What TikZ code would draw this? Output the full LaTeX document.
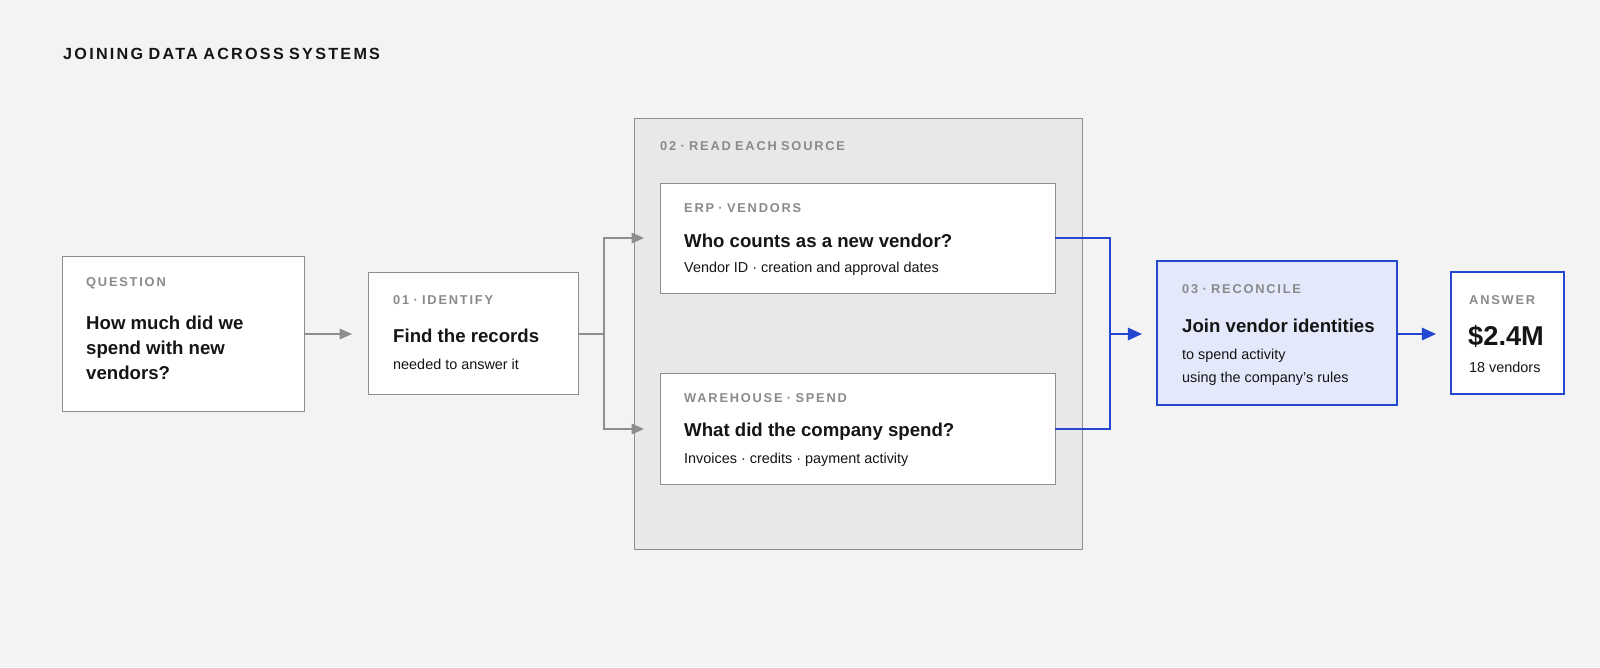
\documentclass[tikz,border=0pt]{standalone}
\usepackage{fontspec}
\setmainfont{Liberation Sans}
\newfontfamily\capsfont[LetterSpace=14,WordSpace={0.8}]{Liberation Sans}
\usetikzlibrary{arrows.meta}
\definecolor{bg}{HTML}{F3F3F3}
\definecolor{grp}{HTML}{E8E8E8}
\definecolor{edge}{HTML}{8E8E8E}
\definecolor{lbl}{HTML}{8A8A8A}
\definecolor{blu}{HTML}{2347CF}
\definecolor{bfill}{HTML}{E3E8FB}
\definecolor{ink}{HTML}{151515}
\tikzset{
  box/.style={draw=edge,fill=white,line width=0.5pt},
  lab/.style={anchor=west,text=lbl,font=\capsfont\bfseries\fontsize{7.3}{9}\selectfont},
  head/.style={anchor=west,text=ink,font=\bfseries\fontsize{10.6}{14.3}\selectfont,align=left},
  sub/.style={anchor=west,text=ink,font=\fontsize{8.2}{13}\selectfont,align=left},
  garr/.style={draw=edge,line width=0.8pt,-{Triangle[length=7pt,width=6pt]}},
  gline/.style={draw=edge,line width=0.8pt},
  barr/.style={draw=blu,line width=1.2pt,-{Triangle[length=8pt,width=7pt]}},
  bline/.style={draw=blu,line width=1.2pt},
}
\begin{document}
\begin{tikzpicture}[x=0.02cm,y=-0.02cm]
\fill[bg] (0,0) rectangle (1600,667);
\useasboundingbox (0,0) rectangle (1600,667);
\node[anchor=west,text=ink,font=\capsfont\bfseries\fontsize{9.2}{10}\selectfont] (title) at (57,54) {JOINING DATA ACROSS SYSTEMS};
% boxes
\draw[box] (62,256) rectangle (304,411);
\node[lab] (ql) at (80,283) {QUESTION};
\node[head] (qh) at (80,348) {How much did we\\spend with new\\vendors?};
\draw[box] (368,272) rectangle (578,394);
\node[lab] (il) at (387,300) {01 · IDENTIFY};
\node[head] (ih) at (387,336) {Find the records};
\node[sub] (is) at (387,364) {needed to answer it};
\draw[draw=edge,fill=grp,line width=0.5pt] (634,118) rectangle (1082,549);
\node[lab] (gl) at (654,146) {02 · READ EACH SOURCE};
\draw[box] (660,183) rectangle (1055,293);
\node[lab] (el) at (678,208) {ERP · VENDORS};
\node[head] (eh) at (678,241) {Who counts as a new vendor?};
\node[sub] (es) at (678,269) {Vendor ID · creation and approval dates};
\draw[box] (660,373) rectangle (1055,484);
\node[lab] (wl) at (678,398) {WAREHOUSE · SPEND};
\node[head] (wh) at (678,432) {What did the company spend?};
\node[sub] (ws) at (678,460) {Invoices · credits · payment activity};
\draw[draw=blu,fill=bfill,line width=1.3pt] (1157,261) rectangle (1397,405);
\node[lab] (rl) at (1176,289) {03 · RECONCILE};
\node[head] (rh) at (1176,326) {Join vendor identities};
\node[sub] (rs) at (1176,367) {to spend activity\\using the company’s rules};
\draw[draw=blu,fill=white,line width=1.3pt] (1451,272) rectangle (1564,394);
\node[lab] (al) at (1463,300) {ANSWER};
\node[anchor=west,text=ink,font=\bfseries\fontsize{15.5}{18}\selectfont] (ah) at (1462,336) {\$2.4M};
\node[sub] (as) at (1463,367) {18 vendors};
% connectors
\coordinate (q1) at (304,334); \coordinate (q2) at (352,334);
\draw[garr] (q1) -- (q2);
\coordinate (i1) at (578,334); \coordinate (br) at (604,334);
\coordinate (e0) at (644,238); \coordinate (w0) at (644,429);
\draw[gline] (i1) -- (br);
\draw[garr] (br) |- (e0);
\draw[garr] (br) |- (w0);
\coordinate (e1) at (1055,238); \coordinate (w1) at (1055,429);
\coordinate (j) at (1110,334); \coordinate (j2) at (1142,334);
\draw[bline] (e1) -| (j) |- (w1);
\draw[barr] (j) -- (j2);
\coordinate (r1) at (1397,334); \coordinate (r2) at (1436,334);
\draw[barr] (r1) -- (r2);
\end{tikzpicture}
\end{document}
